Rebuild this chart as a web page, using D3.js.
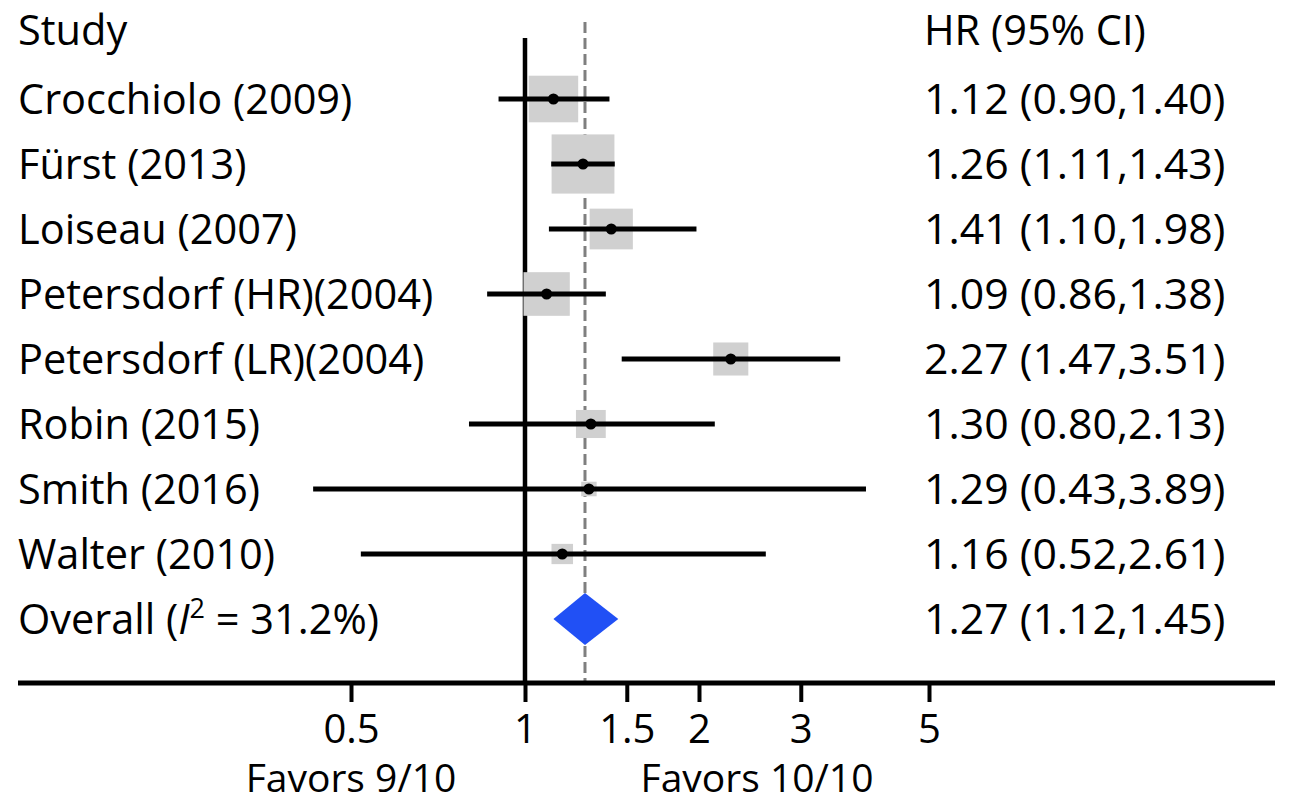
<!DOCTYPE html>
<html>
<head>
<meta charset="utf-8">
<script src="https://cdn.jsdelivr.net/npm/d3@7"></script>
<style>
  body { margin: 0; background: #fff; }
  text { font-family: "Open Sans", Lato, sans-serif; fill: #000; }
</style>
</head>
<body>
<svg width="1289" height="808"></svg>
<script>
// study rows
var studies = ['Crocchiolo (2009)', 'Fürst (2013)', 'Loiseau (2007)', 'Petersdorf (HR)(2004)',
  'Petersdorf (LR)(2004)', 'Robin (2015)', 'Smith (2016)', 'Walter (2010)'];
var hr    = [1.12, 1.26, 1.41, 1.09, 2.27, 1.30, 1.29, 1.16];
var lower = [0.90, 1.11, 1.10, 0.86, 1.47, 0.80, 0.43, 0.52];
var upper = [1.40, 1.43, 1.98, 1.38, 3.51, 2.13, 3.89, 2.61];
var weights = [18.5, 29.8, 14.1, 16.2, 9.3, 6.7, 1.8, 3.5]; // % weight
var overall = {hr: 1.27, lower: 1.12, upper: 1.45, i2: '31.2%'};
var tickValues = [0.5, 1, 1.5, 2, 3, 5];
var tickLabels = ['0.5', '1', '1.5', '2', '3', '5'];

var svg = d3.select('svg');
let x = d3.scaleLog().domain([0.5, 5]).range([351, 929]);
let y = d3.scaleLinear().domain([0, 8]).range([99, 619]);
let box = d3.scaleSqrt().domain([0, 29.8]).range([0, 61]);
let fmt = d3.format('.2f');
let axisY = 683;
let leftSize = 41.5, rightSize = 42.8;

// reference lines
svg.append('line').attr('x1', x(1)).attr('x2', x(1)).attr('y1', 38).attr('y2', axisY)
  .attr('stroke', '#000').attr('stroke-width', 4.5);
svg.append('line').attr('x1', x(overall.hr)).attr('x2', x(overall.hr)).attr('y1', 22).attr('y2', axisY)
  .attr('stroke', '#7f7f7f').attr('stroke-width', 3).attr('stroke-dasharray', '11,5');

let rows = studies.map((s, i) => ({name: s, hr: hr[i], lo: lower[i], hi: upper[i], w: weights[i], i: i}));

let g = svg.selectAll('g.row').data(rows).enter().append('g').attr('class', 'row');
g.append('rect')
  .attr('x', d => x(d.hr) - box(d.w) * 1.03 / 2)
  .attr('y', d => y(d.i) - box(d.w) * 0.97 / 2)
  .attr('width', d => box(d.w) * 1.03)
  .attr('height', d => box(d.w) * 0.97)
  .attr('fill', '#d0d0d0');
g.append('line')
  .attr('x1', d => x(d.lo)).attr('x2', d => x(d.hi))
  .attr('y1', d => y(d.i)).attr('y2', d => y(d.i))
  .attr('stroke', '#000').attr('stroke-width', 5);
g.append('circle')
  .attr('cx', d => x(d.hr)).attr('cy', d => y(d.i)).attr('r', 5.5).attr('fill', '#000');
g.append('text').attr('x', 18).attr('y', d => y(d.i)).attr('dy', '0.36em')
  .attr('font-size', leftSize).text(d => d.name);
g.append('text').attr('x', 924).attr('y', d => y(d.i)).attr('dy', '0.36em')
  .attr('font-size', rightSize).text(d => fmt(d.hr) + ' (' + fmt(d.lo) + ',' + fmt(d.hi) + ')');

// overall diamond
let oy = y(8);
svg.append('path')
  .attr('d', 'M' + x(overall.lower) + ',' + oy + 'L' + x(overall.hr) + ',' + (oy - 26) +
    'L' + x(overall.upper) + ',' + oy + 'L' + x(overall.hr) + ',' + (oy + 26) + 'Z')
  .attr('fill', '#2150f5');
let ot = svg.append('text').attr('x', 18).attr('y', oy).attr('dy', '0.36em').attr('font-size', leftSize);
ot.append('tspan').text('Overall (');
ot.append('tspan').attr('font-style', 'italic').text('I');
ot.append('tspan').attr('font-size', 27).attr('dy', '-0.6em').text('2');
ot.append('tspan').attr('dy', '0.39em').text(' = ' + overall.i2 + ')');
svg.append('text').attr('x', 924).attr('y', oy).attr('dy', '0.36em').attr('font-size', rightSize)
  .text(fmt(overall.hr) + ' (' + fmt(overall.lower) + ',' + fmt(overall.upper) + ')');

// headers
svg.append('text').attr('x', 18).attr('y', 30).attr('dy', '0.36em').attr('font-size', leftSize).text('Study');
svg.append('text').attr('x', 924).attr('y', 30).attr('dy', '0.36em').attr('font-size', leftSize).text('HR (95% CI)');

// x axis
svg.append('line').attr('x1', 18).attr('x2', 1275).attr('y1', axisY).attr('y2', axisY)
  .attr('stroke', '#000').attr('stroke-width', 5);
let xAxis = d3.axisBottom(x).tickValues(tickValues).tickFormat((d, i) => tickLabels[i]).tickSize(19).tickPadding(13);
let ag = svg.append('g').attr('transform', 'translate(0,' + axisY + ')').call(xAxis);
ag.select('.domain').remove();
ag.selectAll('.tick line').attr('stroke', '#000').attr('stroke-width', 4);
ag.selectAll('.tick text').attr('font-size', 40).attr('font-family', '"Open Sans", sans-serif').attr('fill', '#000');

svg.append('text').attr('x', x(0.5)).attr('y', 792).attr('text-anchor', 'middle')
  .attr('font-size', 39).text('Favors 9/10');
svg.append('text').attr('x', 757).attr('y', 792).attr('text-anchor', 'middle')
  .attr('font-size', 39).text('Favors 10/10');
</script>
</body>
</html>
